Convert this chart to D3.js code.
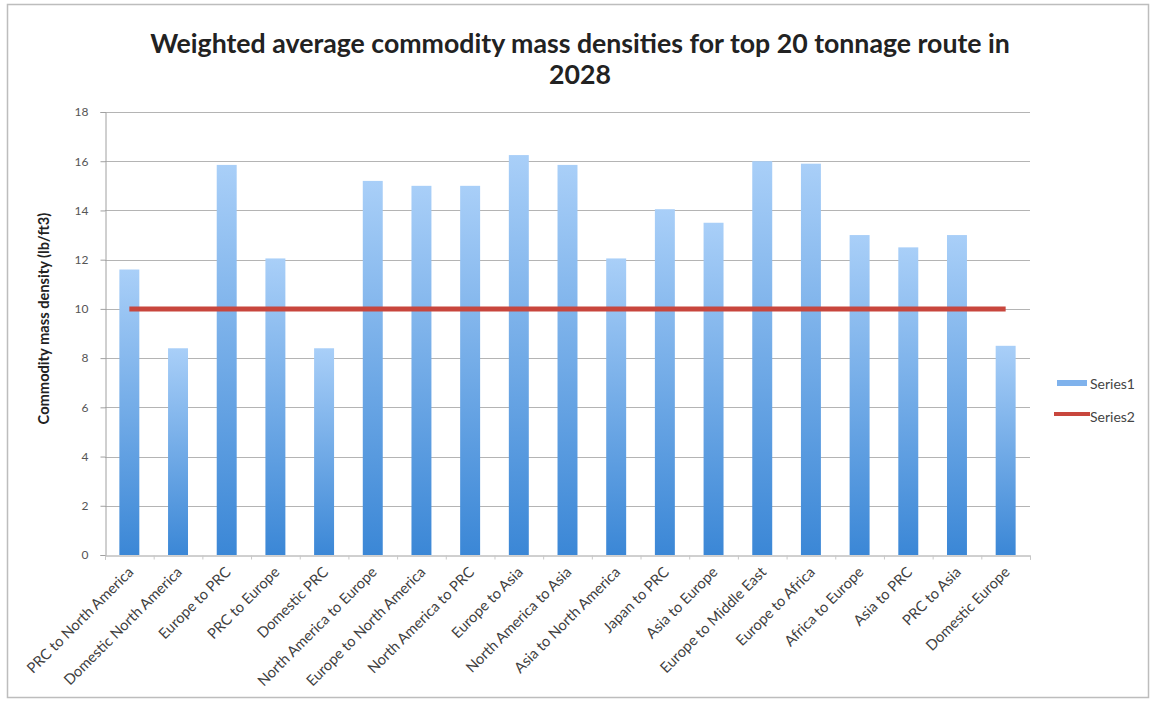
<!DOCTYPE html>
<html><head><meta charset="utf-8">
<script src="https://cdn.jsdelivr.net/npm/d3@7"></script>
<style>body{margin:0;background:#fff} svg{display:block;font-family:Lato,"Open Sans",sans-serif}</style>
</head><body><svg id="c" width="1156" height="704"></svg>
<script>
const categories = ["PRC to North America","Domestic North America","Europe to PRC","PRC to Europe","Domestic PRC","North America to Europe","Europe to North America","North America to PRC","Europe to Asia","North America to Asia","Asia to North America","Japan to PRC","Asia to Europe","Europe to Middle East","Europe to Africa","Africa to Europe","Asia to PRC","PRC to Asia","Domestic Europe"];
const series1 = [11.6,8.4,15.85,12.05,8.4,15.2,15.0,15.0,16.25,15.85,12.05,14.05,13.5,16.0,15.9,13.0,12.5,13.0,8.5];
const series2 = [10,10,10,10,10,10,10,10,10,10,10,10,10,10,10,10,10,10,10];
const yTicks = [0,2,4,6,8,10,12,14,16,18];
const seriesNames = ["Series1","Series2"];
const titleLines = ["Weighted average commodity mass densities for top 20 tonnage route in","2028"];
const yTitle = "Commodity mass density (lb/ft3)";

const svg = d3.select("#c");
const L = 105, R = 1030, T = 112, B = 555;

function fit(sel, target){
  const w = sel.node().getComputedTextLength();
  const fs = parseFloat(sel.attr("font-size"));
  return fs*target/w;
}

// frame
svg.append("rect").attr("x",7.5).attr("y",4.5).attr("width",1141).attr("height",693)
  .attr("fill","#fff").attr("stroke","#bdbdbd").attr("stroke-width",1.5);

const defs = svg.append("defs");
const g1 = defs.append("linearGradient").attr("id","bg").attr("x1",0).attr("y1",0).attr("x2",0).attr("y2",1);
g1.append("stop").attr("offset","0%").attr("stop-color","#a9cff8");
g1.append("stop").attr("offset","100%").attr("stop-color","#3b87d6");

const x = d3.scaleBand().domain(categories).range([L,R]).paddingInner(0.59).paddingOuter(0.295);
const y = d3.scaleLinear().domain([0,18]).range([B,T]);

// gridlines
svg.append("g").selectAll("line").data(yTicks.filter(d=>d>0)).join("line")
  .attr("x1",L).attr("x2",R).attr("y1",d=>Math.round(y(d))+0.5).attr("y2",d=>Math.round(y(d))+0.5)
  .attr("stroke","#b4b4b4").attr("stroke-width",1);

// y axis
const ya = svg.append("g").attr("transform",`translate(${L+0.5},0)`)
  .call(d3.axisLeft(y).tickValues(yTicks).tickSize(5).tickPadding(12));
ya.select(".domain").attr("stroke","#a0a0a0");
ya.selectAll(".tick line").attr("stroke","#a0a0a0");
ya.selectAll(".tick text").attr("font-size",12).attr("fill","#555").attr("font-family","Lato,sans-serif");

// bars
svg.append("g").selectAll("rect").data(series1).join("rect")
  .attr("x",(d,i)=>x(categories[i])).attr("width",x.bandwidth())
  .attr("y",d=>y(d)).attr("height",d=>B-y(d)).attr("fill","url(#bg)");

// x axis
const xl = d3.scaleLinear().domain([0,categories.length]).range([L,R]);
const xa = svg.append("g").attr("transform",`translate(0,${B+0.5})`)
  .call(d3.axisBottom(xl).tickValues(d3.range(categories.length+1)).tickSize(4).tickFormat(""));
xa.select(".domain").attr("stroke","#a0a0a0");
xa.selectAll(".tick line").attr("stroke","#c8c8c8");

const xt = svg.append("g").selectAll("text").data(categories).join("text")
  .attr("transform",d=>`translate(${x(d)+x.bandwidth()/2+5},${B+18}) rotate(-45)`)
  .attr("text-anchor","end").attr("font-size",11).attr("fill","#404040").text(d=>d);
const xfs = fit(xt.filter((d,i)=>i===1), 160);
xt.attr("font-size",xfs);

// series2 line
const line = d3.line().x((d,i)=>x(categories[i])+x.bandwidth()/2).y(d=>y(d));
svg.append("path").datum(series2).attr("d",line).attr("fill","none")
  .attr("stroke","#c8463d").attr("stroke-width",5);

// title
const tt = svg.append("g");
titleLines.forEach((t,i)=>{
  tt.append("text").attr("x",580).attr("y",53+i*31).attr("text-anchor","middle")
    .attr("font-size",22).attr("font-weight","bold").attr("fill","#222").text(t);
});
tt.selectAll("text").attr("font-size",fit(tt.select("text"),860));

// y title
const yt = svg.append("text").attr("transform",`translate(49,${(T+B)/2 - 15}) rotate(-90)`)
  .attr("text-anchor","middle").attr("font-size",11).attr("font-weight","bold").attr("fill","#222").text(yTitle);
yt.attr("font-size",fit(yt,212));

// legend
const lg = svg.append("g");
lg.append("rect").attr("x",1057).attr("y",380).attr("width",30).attr("height",6).attr("fill","#7fb2ec");
lg.append("line").attr("x1",1054).attr("x2",1090).attr("y1",414).attr("y2",414).attr("stroke","#c8463d").attr("stroke-width",4);
seriesNames.forEach((s,i)=>{
  lg.append("text").attr("x",1090).attr("y",389+i*33).attr("font-size",14).attr("fill","#444").text(s);
});
</script></body></html>
